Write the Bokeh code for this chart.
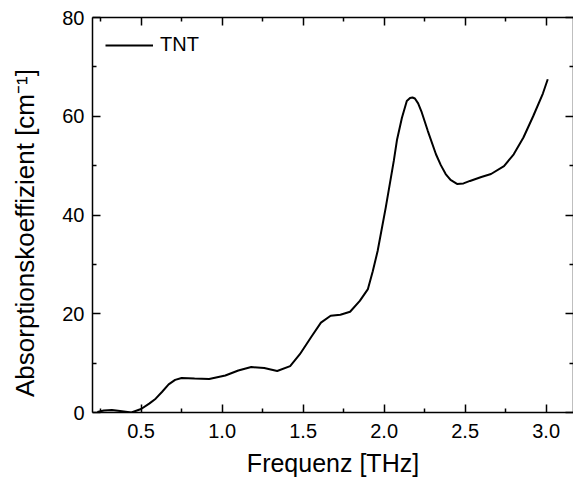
from bokeh.plotting import figure
from bokeh.models import LinearAxis, FixedTicker, Range1d, NumeralTickFormatter, CustomJSTickFormatter
from bokeh.embed import file_html
from bokeh.resources import INLINE

freq = [0.23, 0.27, 0.32, 0.37, 0.44, 0.50, 0.55, 0.59, 0.63, 0.67, 0.71, 0.75,
        0.83, 0.92, 1.02, 1.10, 1.18, 1.26, 1.34, 1.42, 1.48, 1.55, 1.61, 1.67,
        1.73, 1.79, 1.85, 1.90, 1.93, 1.96, 2.01, 2.06, 2.08, 2.11, 2.14, 2.16,
        2.175, 2.19, 2.21, 2.23, 2.27, 2.32, 2.35, 2.38, 2.41, 2.45, 2.49, 2.53,
        2.60, 2.66, 2.74, 2.80, 2.86, 2.92, 2.98, 3.01]
absorb = [0.1, 0.4, 0.5, 0.3, 0.0, 0.7, 1.8, 2.8, 4.2, 5.7, 6.6, 7.0,
          6.9, 6.8, 7.5, 8.5, 9.2, 9.0, 8.4, 9.4, 11.8, 15.3, 18.2, 19.6,
          19.8, 20.4, 22.6, 25.0, 28.6, 32.7, 41.5, 51.0, 55.3, 59.7, 63.1, 63.7,
          63.8, 63.6, 62.6, 61.0, 57.0, 52.3, 50.1, 48.3, 47.1, 46.3, 46.4, 46.9,
          47.7, 48.3, 49.9, 52.3, 55.7, 60.0, 64.6, 67.5]

x_ticks = [0.5, 1.0, 1.5, 2.0, 2.5, 3.0]
x_minor = [0.25, 0.75, 1.25, 1.75, 2.25, 2.75]
y_ticks = [0, 20, 40, 60, 80]
y_minor = [10, 30, 50, 70]

FONT = "Liberation Sans"
PAD = "\u00a0" * 5

p = figure(frame_width=481, frame_height=395,
           x_range=Range1d(0.2, 3.169), y_range=Range1d(0, 80),
           output_backend="svg", toolbar_location=None,
           min_border_left=92, min_border_top=17, min_border_right=0,
           min_border_bottom=70,
           x_axis_label="Frequenz [THz]",
           y_axis_label="Absorptionskoeffizient [cm\u207b\u00b9]" + PAD)
p.xgrid.visible = False
p.ygrid.visible = False
p.outline_line_color = None
p.background_fill_color = "white"
p.border_fill_color = "white"

bottom = p.below[0]
left = p.left[0]
top = LinearAxis()
right = LinearAxis()
p.add_layout(top, "above")
p.add_layout(right, "right")


def style(ax, ticks, minor, fmt, labels=True):
    ax.ticker = FixedTicker(ticks=ticks, minor_ticks=minor)
    ax.major_tick_in = 8
    ax.major_tick_out = 0
    ax.minor_tick_in = 4
    ax.minor_tick_out = 0
    ax.axis_line_width = 1.5
    ax.major_tick_line_width = 1.5
    ax.minor_tick_line_width = 1.5
    ax.axis_line_color = "black"
    ax.major_tick_line_color = "black"
    ax.minor_tick_line_color = "black"
    ax.major_label_text_font = FONT
    ax.major_label_text_color = "black"
    ax.axis_label_text_font = FONT
    ax.axis_label_text_font_style = "normal"
    ax.axis_label_text_color = "black"
    ax.axis_label_text_font_size = "25px"
    ax.major_label_text_font_size = "20px"
    if labels:
        ax.formatter = NumeralTickFormatter(format=fmt)
        ax.major_label_standoff = 8
    else:
        ax.formatter = CustomJSTickFormatter(code="return ''")
        ax.major_label_standoff = 0


style(bottom, x_ticks, x_minor, "0.0")
style(left, y_ticks, y_minor, "0")
style(top, x_ticks, x_minor, "0.0", labels=False)
style(right, y_ticks, y_minor, "0", labels=False)
bottom.major_label_standoff = 11
bottom.axis_label_standoff = 8
left.axis_label_standoff = 19
left.axis_label_text_font_size = "26px"

p.line(freq, absorb, line_color="black", line_width=2, legend_label="TNT")

lg = p.legend[0]
lg.location = (13, 356)
lg.border_line_color = None
lg.background_fill_alpha = 0
lg.label_text_font = FONT
lg.label_text_font_size = "20px"
lg.label_text_color = "black"
lg.glyph_width = 48
lg.label_standoff = 7
lg.margin = 0
lg.padding = 0
lg.spacing = 0

open("out.html", "w").write(file_html(p, INLINE))
